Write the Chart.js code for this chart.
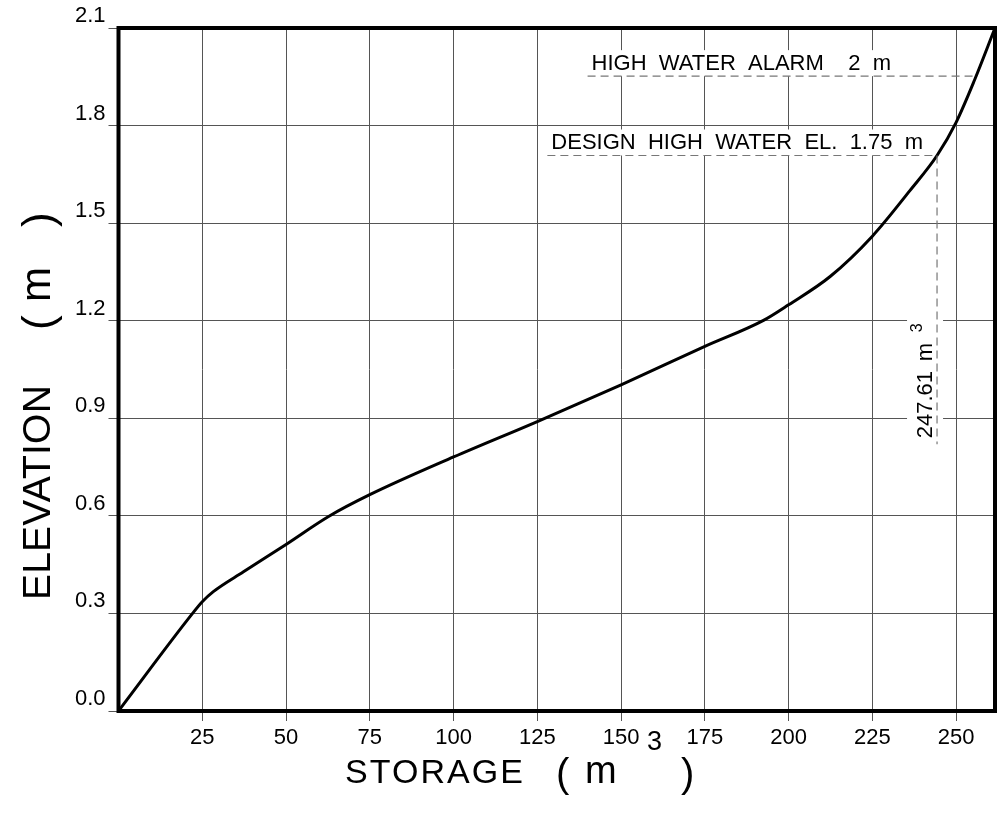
<!DOCTYPE html>
<html>
<head>
<meta charset="utf-8">
<title>Storage - Elevation</title>
<script src="https://cdn.jsdelivr.net/npm/chart.js@4.4.1/dist/chart.umd.min.js"></script>
<style>
    html, body { margin: 0; padding: 0; background: #fff; }
    #chart-wrap { width: 997px; height: 816px; }
</style>
</head>
<body>
<div id="chart-wrap"><canvas id="storage-chart" width="997" height="816"></canvas></div>
<script>
// Storage / elevation curve
const storage = [0, 22.1, 25, 28.3, 37.3, 50, 62.7, 75, 100, 125, 150, 175, 192.5, 200, 212.4, 225, 236.2, 244.3, 250, 255.5, 261.6];
const elevation = [0, 0.3, 0.336, 0.367, 0.428, 0.512, 0.598, 0.665, 0.781, 0.89, 1.003, 1.121, 1.201, 1.249, 1.336, 1.46, 1.6, 1.708, 1.81, 1.94, 2.1];

// Axis ticks
const xTicks = [25, 50, 75, 100, 125, 150, 175, 200, 225, 250];
const yTicks = [0, 0.3, 0.6, 0.9, 1.2, 1.5, 1.8, 2.1];
const xMax = 261.6;
const yMax = 2.1;

// Dashed notes (levels as they sit on the drawing)
const noteLevels = [1.952, 1.708];
const noteFrom = [140, 128];
const noteTo = [255.9, 244.3];
const noteLabels = ["HIGH  WATER  ALARM    2  m", "DESIGN  HIGH  WATER  EL.  1.75  m"];
const designStorage = 244.3;
const designBottom = 0.82;
const designVolume = "247.61";

const FONT = '"Liberation Sans", Arial, sans-serif';

// Draw text stretched with letter spacing to a given width
function fitText(ctx, text, x, y, width) {
    ctx.letterSpacing = "0px";
    const natural = ctx.measureText(text).width;
    const gap = Math.max(0, (width - natural) / text.length);
    ctx.letterSpacing = gap + "px";
    ctx.fillText(text, x, y);
    ctx.letterSpacing = "0px";
}

// Dashed horizontal/vertical line in pixels
function dashLine(ctx, x0, y0, x1, y1) {
    ctx.save();
    ctx.strokeStyle = "#777";
    ctx.lineWidth = 1.2;
    ctx.setLineDash([8, 5]);
    ctx.beginPath();
    ctx.moveTo(x0, y0);
    ctx.lineTo(x1, y1);
    ctx.stroke();
    ctx.restore();
}

// Notes: high water alarm, design high water, volume leader
const notesPlugin = {
    id: "notes",
    afterDatasetsDraw(chart) {
        const { ctx, scales: { x, y } } = chart;
        const widths = [293, 369];
        ctx.save();
        ctx.font = "22px " + FONT;
        ctx.textBaseline = "alphabetic";
        noteLevels.forEach((lvl, i) => {
            const py = y.getPixelForValue(lvl);
            const x0 = x.getPixelForValue(noteFrom[i]);
            const x1 = x.getPixelForValue(noteTo[i]);
            // white box so the grid does not cross the text
            ctx.fillStyle = "#fff";
            ctx.fillRect(x0, py - 26, widths[i] + 10, 26);
            ctx.fillStyle = "#000";
            fitText(ctx, noteLabels[i], x0 + 4, py - 6, widths[i]);
            dashLine(ctx, x0, py, x1, py);
        });

        // vertical leader under design high water
        const vx = x.getPixelForValue(designStorage);
        const vTop = y.getPixelForValue(noteLevels[1]);
        const vBot = y.getPixelForValue(designBottom);
        ctx.fillStyle = "#fff";
        ctx.fillRect(vx - 30, vBot - 145, 36, 146);
        dashLine(ctx, vx, vTop, vx, vBot);

        ctx.translate(vx - 5, vBot - 6);
        ctx.rotate(-Math.PI / 2);
        ctx.fillStyle = "#000";
        fitText(ctx, designVolume, 0, 0, 62);
        ctx.fillText("m", 77, 0);
        ctx.font = "16px " + FONT;
        ctx.fillText("3", 106, -10);
        ctx.restore();
    }
};

// Axis titles and the heavy frame
const framePlugin = {
    id: "frame",
    afterDraw(chart) {
        const { ctx, chartArea: a } = chart;
        ctx.save();
        ctx.strokeStyle = "#000";
        ctx.lineWidth = 4;
        ctx.strokeRect(a.left, a.top, a.right - a.left, a.bottom - a.top);

        ctx.fillStyle = "#000";
        ctx.textBaseline = "alphabetic";
        // x title
        ctx.font = "34px " + FONT;
        fitText(ctx, "STORAGE", 345, 783, 180);
        ctx.font = "40px " + FONT;
        ctx.fillText("(", 556, 787);
        ctx.font = "38px " + FONT;
        ctx.fillText("m", 585, 783);
        ctx.font = "27px " + FONT;
        ctx.fillText("3", 647, 750);
        ctx.font = "40px " + FONT;
        ctx.fillText(")", 681, 787);

        // y title
        ctx.translate(50, 600);
        ctx.rotate(-Math.PI / 2);
        ctx.font = "39px " + FONT;
        fitText(ctx, "ELEVATION", 0, 0, 215);
        ctx.font = "44px " + FONT;
        ctx.fillText("(", 270, 3);
        ctx.font = "42px " + FONT;
        ctx.fillText("m", 298, 0);
        ctx.font = "44px " + FONT;
        ctx.fillText(")", 373, 3);
        ctx.restore();
    }
};

const ctx = document.getElementById("storage-chart").getContext("2d");

const chart = new Chart(ctx, {
    type: "line",
    data: {
        datasets: [{
            data: storage.map((s, i) => ({ x: s, y: elevation[i] })),
            borderColor: "#000",
            borderWidth: 3,
            pointRadius: 0,
            fill: false,
            cubicInterpolationMode: "monotone"
        }]
    },
    options: {
        responsive: false,
        maintainAspectRatio: false,
        animation: false,
        layout: { padding: { top: 28, right: 2, left: 0, bottom: 0 }, autoPadding: false },
        plugins: {
            legend: { display: false },
            tooltip: { enabled: false }
        },
        scales: {
            x: {
                type: "linear",
                min: 0,
                max: xMax,
                afterBuildTicks: (s) => { s.ticks = xTicks.map(v => ({ value: v })); },
                afterFit: (s) => { s.height = 105; },
                grid: { color: "#555", lineWidth: 1, tickLength: 10, drawTicks: true },
                border: { display: false },
                ticks: {
                    color: "#000",
                    font: { family: FONT, size: 22 },
                    padding: 4,
                    maxRotation: 0,
                    autoSkip: false
                }
            },
            y: {
                type: "linear",
                min: 0,
                max: yMax,
                afterBuildTicks: (s) => { s.ticks = yTicks.map(v => ({ value: v })); },
                afterFit: (s) => { s.width = 118.5; },
                grid: { color: "#555", lineWidth: 1, tickLength: 10, drawTicks: true },
                border: { display: false },
                ticks: {
                    color: "#000",
                    font: { family: FONT, size: 22 },
                    padding: 3,
                    labelOffset: -12,
                    autoSkip: false,
                    callback: (v) => Number(v).toFixed(1)
                }
            }
        }
    },
    plugins: [notesPlugin, framePlugin]
});
</script>
</body>
</html>
